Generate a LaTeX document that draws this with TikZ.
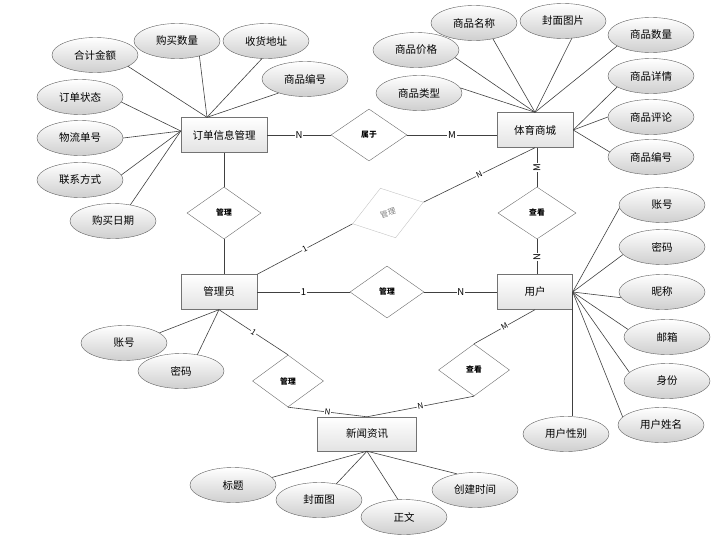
\documentclass[tikz,border=0pt]{standalone}
\usepackage{fontspec}
\setmainfont{Noto Sans CJK SC}
\usetikzlibrary{shapes.geometric}

\begin{document}
\begin{tikzpicture}[x=1pt, y=-1pt,
  entity/.style={draw=gray!90!black, top color=white, bottom color=gray!22, minimum width=76pt, minimum height=35pt, inner sep=0pt, font=\fontsize{10.5}{12}\selectfont},
  attr/.style={ellipse, draw=gray!75!black, top color=white, bottom color=gray!38, minimum width=86pt, minimum height=35pt, inner sep=0pt, font=\fontsize{10.5}{12}\selectfont},
  rel/.style={diamond, draw=gray!85!black, fill=white, minimum width=74pt, minimum height=52pt, inner sep=0pt, font=\fontsize{7.8}{9}\selectfont\bfseries},
  link/.style={draw=black!75, line width=0.6pt},
  card/.style={font=\fontsize{9.5}{10}\selectfont, fill=white, inner sep=0.8pt},
  cardsmall/.style={card, sloped, font=\fontsize{8}{9}\selectfont}]
\useasboundingbox (0,0) rectangle (723,546);

% entities
\node[entity, minimum width=86pt] (order) at (224,135) {订单信息管理};
\node[entity] (shop) at (535,130) {体育商城};
\node[entity] (admin) at (219,292) {管理员};
\node[entity, minimum width=75pt] (user) at (535,292) {用户};
\node[entity, minimum width=99pt, minimum height=34pt] (news) at (367,434) {新闻资讯};

% relations
\node[rel, minimum width=76pt] (belong) at (369,135) {属于};
\node[rel] (mgrOrder) at (224,213) {管理};
\node[rel, rotate=17, draw=gray!45, text=gray, font=\fontsize{7.8}{9}\selectfont] (mgrShop) at (388,213) {管理};
\node[rel, minimum width=78pt] (viewShop) at (537,213) {查看};
\node[rel] (mgrUser) at (387,292) {管理};
\node[rel, minimum width=71pt] (mgrNews) at (288,381) {管理};
\node[rel, minimum width=71pt] (viewNews) at (474,370) {查看};

% attributes
\foreach \n/\x/\y/\t in {total/95/55/合计金额, qty/177/41/购买数量, addr/266/41/收货地址, pid/305/79/商品编号,
  state/80/97/订单状态, track/80/138/物流单号, contact/80/180/联系方式, date/113/221/购买日期} {
 \node[attr] (\n) at (\x,\y) {\t};
}
\foreach \n/\x/\y/\t in {gname/474/23/商品名称, cover/563/21/封面图片, price/416/50/商品价格, gtype/419/93/商品类型,
  gnum/651/35/商品数量, detail/651/76/商品详情, review/651/117/商品评论, gid/651/157/商品编号} {
 \node[attr] (\n) at (\x,\y) {\t};
}
\foreach \n/\x/\y/\t in {uacc/662/205/账号, upwd/662/247/密码, nick/662/292/昵称, mail/667/337/邮箱,
  role/667/381/身份, uname/661/425/用户姓名, usex/566/434/用户性别} {
 \node[attr] (\n) at (\x,\y) {\t};
}
\foreach \n/\x/\y/\t in {aacc/124/343/账号, apwd/181/371/密码,
  title/233/485/标题, pic/319/500/封面图, body/404/517/正文, ctime/475/490/创建时间} {
 \node[attr] (\n) at (\x,\y) {\t};
}

\coordinate (oTop) at ([xshift=-17pt]order.north);
\coordinate (oLeft) at ([yshift=4pt]order.west);
\foreach \n/\a in {total/341, qty/326, addr/257, pid/208} {
 \draw[link] (\n.\a) -- (oTop);
}
\foreach \n/\a in {state/353, track/0, contact/7, date/43} {
 \draw[link] (\n.\a) -- (oLeft);
}
\foreach \n/\a in {gname/320, cover/297, price/349, gtype/7, gnum/198} {
 \draw[link] (\n.\a) -- (shop.north);
}
\foreach \n/\a in {detail/198, review/180, gid/173} {
 \draw[link] (\n.\a) -- (shop.east);
}
\foreach \n/\a in {uacc/184, upwd/191, nick/188, mail/169, role/167, uname/168} {
 \draw[link] (\n.\a) -- (user.east);
}
\draw[link] (user.east |- usex.north) -- (user.east);
\foreach \n/\a in {aacc/16, apwd/45} {
 \draw[link] (\n.\a) -- (admin.south);
}
\foreach \n/\a in {title/11, pic/43, body/109, ctime/138} {
 \draw[link] (\n.\a) -- (news.south);
}

% relation links
\draw[link] (order) -- node[card] {N} (belong);
\draw[link] (belong.east) -- node[card] {M} (belong.east -| shop.west);
\draw[link] (order.south -| mgrOrder.north) -- (mgrOrder.north);
\draw[link] (mgrOrder.south) -- (mgrOrder.south |- admin.north);
\draw[link] (admin.north east) -- node[cardsmall] {1} (mgrShop.west);
\draw[link] (mgrShop.east) -- node[cardsmall] {N} (shop.south);
\draw[link] (viewShop.north |- shop.south) -- node[card, rotate=90] {M} (viewShop.north);
\draw[link] (viewShop.south) -- node[card, rotate=90] {N} (viewShop.south |- user.north);
\draw[link] (admin) -- node[card] {1} (mgrUser);
\draw[link] (mgrUser) -- node[card] {N} (user);
\draw[link] (admin.south) -- node[cardsmall] {1} (mgrNews.north);
\draw[link] (mgrNews.south) -- node[cardsmall] {N} (news.north);
\draw[link] (viewNews.north) -- node[cardsmall] {M} (user.south);
\draw[link] (viewNews.south) -- node[cardsmall] {N} (news.north);
\end{tikzpicture}
\end{document}
